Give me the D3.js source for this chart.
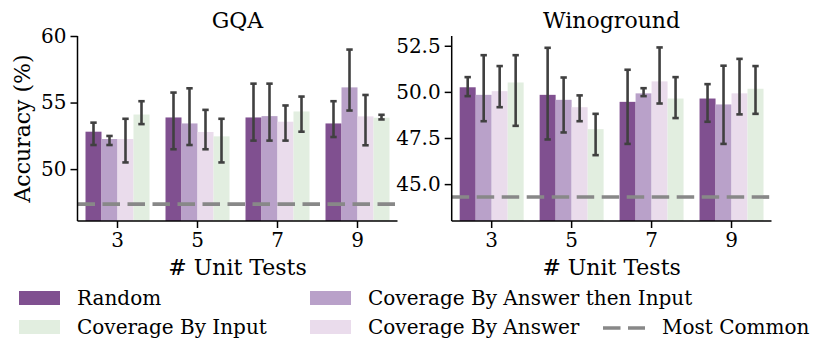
<!DOCTYPE html>
<html>
<head>
<meta charset="utf-8">
<script src="https://cdn.jsdelivr.net/npm/d3@7"></script>
<style>
  body { margin: 0; background: #fff; }
  svg { font-family: "DejaVu Serif", serif; }
</style>
</head>
<body>
<svg id="chart" width="830" height="360"></svg>
<script>
// data
var groups = ["3", "5", "7", "9"];
var methods = ["Random", "Coverage By Answer then Input", "Coverage By Answer", "Coverage By Input"];
var colors = ["#805090", "#b9a1c9", "#eadcec", "#e2eee0"];

// [group][method]
var gqaMean = [[52.81, 52.26, 52.26, 54.10], [53.88, 53.43, 52.79, 52.46], [53.88, 53.98, 53.56, 54.33], [53.43, 56.14, 53.96, 53.86]];
var gqaLow  = [[51.81, 51.81, 50.50, 53.38], [51.49, 51.81, 51.49, 50.50], [52.14, 52.14, 52.14, 52.81], [52.41, 54.40, 51.79, 53.73]];
var gqaHigh = [[53.49, 52.49, 53.78, 55.10], [55.75, 56.07, 54.45, 53.78], [56.42, 56.42, 54.78, 55.45], [55.10, 58.98, 55.57, 54.08]];
var gqaCommon = 47.37;

var winoMean = [[50.25, 49.84, 50.04, 50.51], [49.84, 49.57, 49.17, 47.98], [49.46, 49.92, 50.57, 49.64], [49.64, 49.32, 49.92, 50.17]];
var winoLow  = [[49.77, 48.41, 49.17, 48.16], [47.42, 47.80, 48.41, 46.57], [47.18, 49.77, 49.37, 48.58], [48.38, 47.18, 48.78, 48.81]];
var winoHigh = [[50.80, 51.99, 51.40, 51.99], [52.39, 50.78, 49.81, 48.81], [51.20, 50.20, 52.41, 50.80], [50.42, 51.42, 51.79, 51.40]];
var winoCommon = 44.30;

var panels = [
    {title: "GQA", mean: gqaMean, low: gqaLow, high: gqaHigh, common: gqaCommon,
     domain: [46.1, 60.0], ticks: [50, 55, 60], fmt: d3.format("d"), x0: 77.5, x1: 397.5},
    {title: "Winoground", mean: winoMean, low: winoLow, high: winoHigh, common: winoCommon,
     domain: [43.0, 53.03], ticks: [45, 47.5, 50, 52.5], fmt: d3.format(".1f"), x0: 451.7, x1: 771.5}
];

var svg = d3.select("#chart");
var yTop = 36, yBottom = 221;

panels.forEach(function(p, pi){
    var x = d3.scaleBand().domain(groups).range([p.x0, p.x1]).paddingInner(0.2).paddingOuter(0.1);
    var xs = d3.scaleBand().domain(d3.range(methods.length)).range([0, x.bandwidth()]);
    var y = d3.scaleLinear().domain(p.domain).range([yBottom, yTop]);
    var g = svg.append("g");

    var rows = [];
    groups.forEach(function(gr, gi){
        methods.forEach(function(m, mi){
            rows.push({g: gr, m: mi, v: p.mean[gi][mi], lo: p.low[gi][mi], hi: p.high[gi][mi]});
        });
    });

    g.selectAll("rect.bar").data(rows).enter().append("rect")
        .attr("class", "bar")
        .attr("x", function(d){ return x(d.g) + xs(d.m); })
        .attr("width", xs.bandwidth())
        .attr("y", function(d){ return y(d.v); })
        .attr("height", function(d){ return yBottom - y(d.v); })
        .attr("fill", function(d){ return colors[d.m]; });

    // most common baseline
    g.append("line")
        .attr("x1", p.x0).attr("x2", p.x1)
        .attr("y1", y(p.common)).attr("y2", y(p.common))
        .attr("stroke", "#888").attr("stroke-width", 3.7)
        .attr("stroke-dasharray", "17.5,7.5");

    // error bars
    var eb = g.selectAll("g.err").data(rows).enter().append("g")
        .attr("class", "err")
        .attr("stroke", "#404040").attr("stroke-width", 2.6);
    eb.append("line")
        .attr("x1", function(d){ return x(d.g) + xs(d.m) + xs.bandwidth() / 2; })
        .attr("x2", function(d){ return x(d.g) + xs(d.m) + xs.bandwidth() / 2; })
        .attr("y1", function(d){ return y(d.lo); })
        .attr("y2", function(d){ return y(d.hi); });
    ["lo", "hi"].forEach(function(k){
        eb.append("line")
            .attr("x1", function(d){ return x(d.g) + xs(d.m) + xs.bandwidth() / 2 - 3.2; })
            .attr("x2", function(d){ return x(d.g) + xs(d.m) + xs.bandwidth() / 2 + 3.2; })
            .attr("y1", function(d){ return y(d[k]); })
            .attr("y2", function(d){ return y(d[k]); });
    });

    // axes
    var xa = g.append("g").attr("transform", "translate(0," + yBottom + ")")
        .call(d3.axisBottom(x).tickSize(7).tickPadding(5).tickSizeOuter(0));
    xa.select(".domain").attr("d", "M" + p.x0 + ",0H" + p.x1);
    var ya = g.append("g").attr("transform", "translate(" + p.x0 + ",0)")
        .call(d3.axisLeft(y).tickValues(p.ticks).tickFormat(p.fmt).tickSize(7).tickPadding(4).tickSizeOuter(0));
    ya.select(".domain").attr("d", "M0," + yBottom + "V" + yTop);
    [xa, ya].forEach(function(a){
        a.selectAll("text").attr("font-family", "DejaVu Serif").attr("font-size", 20).attr("fill", "#000");
        a.selectAll("line, path").attr("stroke", "#000").attr("stroke-width", 1.5);
    });

    g.append("text")
        .attr("x", (p.x0 + p.x1) / 2).attr("y", 28)
        .attr("text-anchor", "middle").attr("font-size", 22)
        .text(p.title);
    g.append("text")
        .attr("x", (p.x0 + p.x1) / 2).attr("y", 275)
        .attr("text-anchor", "middle").attr("font-size", 22)
        .text("# Unit Tests");
});

svg.append("text")
    .attr("transform", "translate(30," + (yTop + yBottom) / 2 + ") rotate(-90)")
    .attr("text-anchor", "middle").attr("font-size", 22)
    .text("Accuracy (%)");

// legend
var legendItems = [
    {label: "Random", color: colors[0], col: 0, row: 0},
    {label: "Coverage By Input", color: colors[3], col: 0, row: 1},
    {label: "Coverage By Answer then Input", color: colors[1], col: 1, row: 0},
    {label: "Coverage By Answer", color: colors[2], col: 1, row: 1},
    {label: "Most Common", dash: true, col: 2, row: 1}
];
var colX = [19, 310, 603];
var rowY = [298, 327];
var leg = svg.selectAll("g.leg").data(legendItems).enter().append("g")
    .attr("class", "leg")
    .attr("transform", function(d){ return "translate(" + colX[d.col] + "," + rowY[d.row] + ")"; });
leg.filter(function(d){ return !d.dash; }).append("rect")
    .attr("x", 0).attr("y", -7).attr("width", 41).attr("height", 14)
    .attr("fill", function(d){ return d.color; });
leg.filter(function(d){ return d.dash; }).append("line")
    .attr("x1", 0).attr("x2", 42).attr("y1", 1).attr("y2", 1)
    .attr("stroke", "#888").attr("stroke-width", 3.7)
    .attr("stroke-dasharray", "17.5,7.5");
leg.append("text")
    .attr("x", function(d){ return d.dash ? 59 : 58; })
    .attr("y", 7)
    .attr("font-size", 20)
    .text(function(d){ return d.label; });
</script>
</body>
</html>
